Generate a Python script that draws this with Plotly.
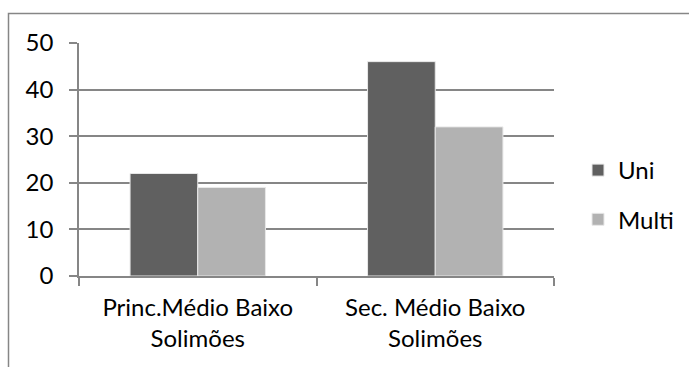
import plotly.graph_objects as go

categories = ["Princ.Médio Baixo<br>Solimões", "Sec. Médio Baixo<br>Solimões"]
uni = [22, 46]
multi = [19, 32]
yticks = [0, 10, 20, 30, 40, 50]

W, H = 689, 367
L, R, T, B = 79, 135, 43, 91
pw, ph = W - L - R, H - T - B
FS = 24

fig = go.Figure()
fig.add_trace(go.Bar(name="Uni", x=categories, y=uni, marker=dict(color="#606060", line=dict(color="#e8e8e8", width=1)), legendgroup="a"))
fig.add_trace(go.Bar(name="Multi", x=categories, y=multi, marker=dict(color="#b2b2b2", line=dict(color="#e8e8e8", width=1)), legendgroup="b"))

font = dict(family="Lato, Liberation Sans, sans-serif", size=FS, color="#000000")

fig.update_layout(
    width=W, height=H,
    margin=dict(l=L, r=R, t=T, b=B, pad=0),
    barmode="group", bargap=0.43, bargroupgap=0,
    plot_bgcolor="white", paper_bgcolor="white",
    font=font,
    showlegend=True,
    legend=dict(xref="container", yref="container", x=578 / W, y=1 - 195 / H, xanchor="left", yanchor="middle",
                tracegroupgap=15, font=dict(size=FS), itemwidth=30, bgcolor="rgba(0,0,0,0)"),
    xaxis=dict(showline=True, linecolor="#868686", linewidth=1.5, ticks="outside", ticklen=8, tickcolor="#868686",
               tickwidth=1.5, tickson="boundaries", showgrid=False, tickfont=dict(size=FS), ticklabelstandoff=9),
    yaxis=dict(range=[0, 50], tickvals=yticks, showline=True, linecolor="#868686", linewidth=1.5, ticks="outside",
               ticklen=8, tickcolor="#868686", tickwidth=1.5, showgrid=True, gridcolor="#868686", gridwidth=1.5,
               zeroline=False, tickfont=dict(size=FS), ticklabelstandoff=11),
    shapes=[dict(type="rect", xref="paper", yref="paper",
                 x0=(8.5 - L) / pw, x1=(W + 20 - L) / pw,
                 y0=-(H + 20 - (T + ph)) / ph, y1=(T + ph - 13.5) / ph,
                 line=dict(color="#868686", width=1.5), fillcolor="rgba(0,0,0,0)", layer="below")],
)

fig.write_html("out.html", config={"displayModeBar": False},
               post_script="document.body.style.margin='0';document.body.style.overflow='hidden';")
